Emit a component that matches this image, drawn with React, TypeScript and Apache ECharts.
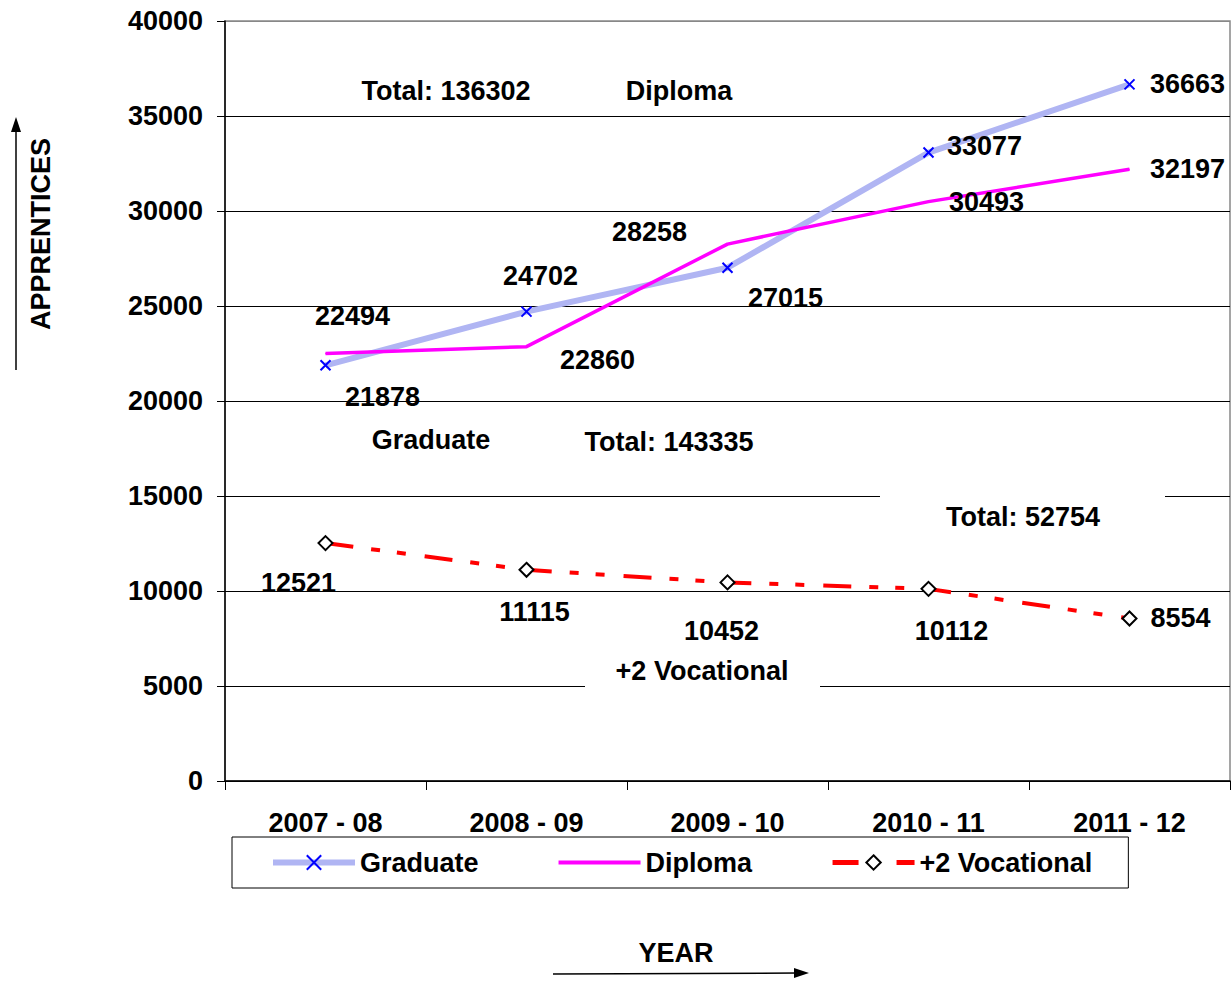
import React, { useEffect, useRef } from "react";
import * as echarts from "echarts";

const years = ["2007 - 08", "2008 - 09", "2009 - 10", "2010 - 11", "2011 - 12"];
const graduate = [21878, 24702, 27015, 33077, 36663];
const diploma = [22494, 22860, 28258, 30493, 32197];
const vocational = [12521, 11115, 10452, 10112, 8554];
const yTicks = { min: 0, max: 40000, interval: 5000 };

// label offsets (px) relative to each point
const gradOffsets = [[57, 32], [14, -36], [58, 30], [56, -7], [58, 0]];
const dipOffsets = [[27, -38], [71, 13], [-78, -12], [58, 0], [58, 0]];
const vocOffsets = [[-27, 40], [8, 42], [-6, 49], [23, 42], [51, 0]];

const FONT = "'Liberation Sans', Arial, sans-serif";
const FS = 27;

function withLabels(values: number[], offsets: number[][]) {
  return values.map((v, i) => ({
    value: v,
    label: {
      show: true,
      position: "inside",
      offset: offsets[i],
      align: "center",
      verticalAlign: "middle",
      formatter: String(v),
      color: "#000",
      fontWeight: "bold",
      fontSize: FS,
      fontFamily: FONT,
    },
  }));
}

export default function App() {
  const ref = useRef<HTMLDivElement>(null);
  useEffect(() => {
    const chart = echarts.init(ref.current!, null, { renderer: "svg" });
    const textStyle = (t: string, x: number, y: number) => ({
      type: "text",
      x,
      y,
      z: 10,
      style: {
        text: t,
        fill: "#000",
        font: `bold ${FS}px ${FONT}`,
        textAlign: "center",
        textVerticalAlign: "middle",
      },
    });
    chart.setOption({
      animation: false,
      backgroundColor: "#fff",
      textStyle: { fontFamily: FONT },
      grid: {
        left: 225,
        top: 21,
        right: 2,
        bottom: 200,
        show: true,
        borderColor: "#888",
        borderWidth: 1.5,
        backgroundColor: "transparent",
      },
      xAxis: {
        type: "category",
        data: years,
        boundaryGap: true,
        axisLine: { lineStyle: { color: "#000", width: 1.5 } },
        axisTick: { show: true, length: 9, lineStyle: { color: "#000" } },
        axisLabel: {
          color: "#000",
          fontWeight: "bold",
          fontSize: FS,
          fontFamily: FONT,
          margin: 28,
        },
        splitLine: { show: false },
      },
      yAxis: {
        type: "value",
        min: yTicks.min,
        max: yTicks.max,
        interval: yTicks.interval,
        axisLine: { show: true, lineStyle: { color: "#000", width: 1.5 } },
        axisTick: { show: true, length: 8, lineStyle: { color: "#000" } },
        axisLabel: {
          color: "#000",
          fontWeight: "bold",
          fontSize: FS,
          fontFamily: FONT,
          margin: 22,
          formatter: (v: number) => String(v),
        },
        splitLine: {
          show: true,
          lineStyle: {
            color: ["#000", "#000", "#000", "#000", "#000", "#000", "#000", "#000", "#888"],
            width: 1,
          },
        },
      },
      legend: {
        left: 232,
        top: 837,
        orient: "horizontal",
        padding: [12, 36, 12, 38],
        itemWidth: 82,
        itemHeight: 18,
        itemGap: 78,
        borderColor: "#000",
        borderWidth: 1,
        backgroundColor: "#fff",
        textStyle: {
          color: "#000",
          fontWeight: "bold",
          fontSize: FS,
          fontFamily: FONT,
          padding: [0, 0, 0, 0],
        },
        data: [
          { name: "Graduate", lineStyle: { width: 6, color: "#b0b5f3" } },
          { name: "Diploma", itemStyle: { opacity: 0 }, lineStyle: { width: 4, color: "#ff00ff" } },
          { name: "+2 Vocational", lineStyle: { width: 5, color: "#ff0000", type: [26, 10, 8, 20] } },
        ],
      },
      graphic: [
        { type: "rect", z: 5, shape: { x: 880, y: 488, width: 285, height: 18 }, style: { fill: "#fff" } },
        { type: "rect", z: 5, shape: { x: 585, y: 678, width: 235, height: 16 }, style: { fill: "#fff" } },
        textStyle("Total: 136302", 446, 91),
        textStyle("Diploma", 679, 91),
        textStyle("Graduate", 431, 440),
        textStyle("Total: 143335", 669, 442),
        textStyle("Total: 52754", 1023, 517),
        textStyle("+2 Vocational", 702, 671),
        textStyle("YEAR", 676, 953),
        {
          type: "text",
          x: 41,
          y: 234,
          rotation: Math.PI / 2,
          z: 10,
          style: {
            text: "APPRENTICES",
            fill: "#000",
            font: `bold ${FS}px ${FONT}`,
            textAlign: "center",
            textVerticalAlign: "middle",
          },
        },
        { type: "line", z: 10, shape: { x1: 16, y1: 370, x2: 16, y2: 128 }, style: { stroke: "#000", lineWidth: 1.5 } },
        { type: "polygon", z: 10, shape: { points: [[16, 117], [11, 132], [21, 132]] }, style: { fill: "#000" } },
        { type: "line", z: 10, shape: { x1: 553, y1: 974, x2: 798, y2: 973 }, style: { stroke: "#000", lineWidth: 1.5 } },
        { type: "polygon", z: 10, shape: { points: [[809, 973], [794, 968], [794, 978]] }, style: { fill: "#000" } },
      ],
      series: [
        {
          name: "Graduate",
          type: "line",
          data: withLabels(graduate, gradOffsets),
          symbol: "path://M0,0L10,10M10,0L0,10",
          symbolSize: 10,
          z: 3,
          lineStyle: { color: "#b0b5f3", width: 6 },
          itemStyle: { color: "#0000ff", borderColor: "#0000ff", borderWidth: 2 },
        },
        {
          name: "Diploma",
          type: "line",
          data: withLabels(diploma, dipOffsets),
          symbol: "circle",
          symbolSize: 1,
          z: 4,
          lineStyle: { color: "#ff00ff", width: 3.5 },
          itemStyle: { color: "#ff00ff" },
        },
        {
          name: "+2 Vocational",
          type: "line",
          data: withLabels(vocational, vocOffsets),
          symbol: "diamond",
          symbolSize: 14,
          z: 4,
          lineStyle: { color: "#ff0000", width: 4, type: [28, 18, 9, 17, 9, 19] },
          itemStyle: { color: "#ffffff", borderColor: "#000", borderWidth: 2 },
        },
      ],
    });
    return () => chart.dispose();
  }, []);
  return (
    <div
      ref={ref}
      style={{ position: "fixed", left: 0, top: 0, width: 1232, height: 981 }}
    />
  );
}
